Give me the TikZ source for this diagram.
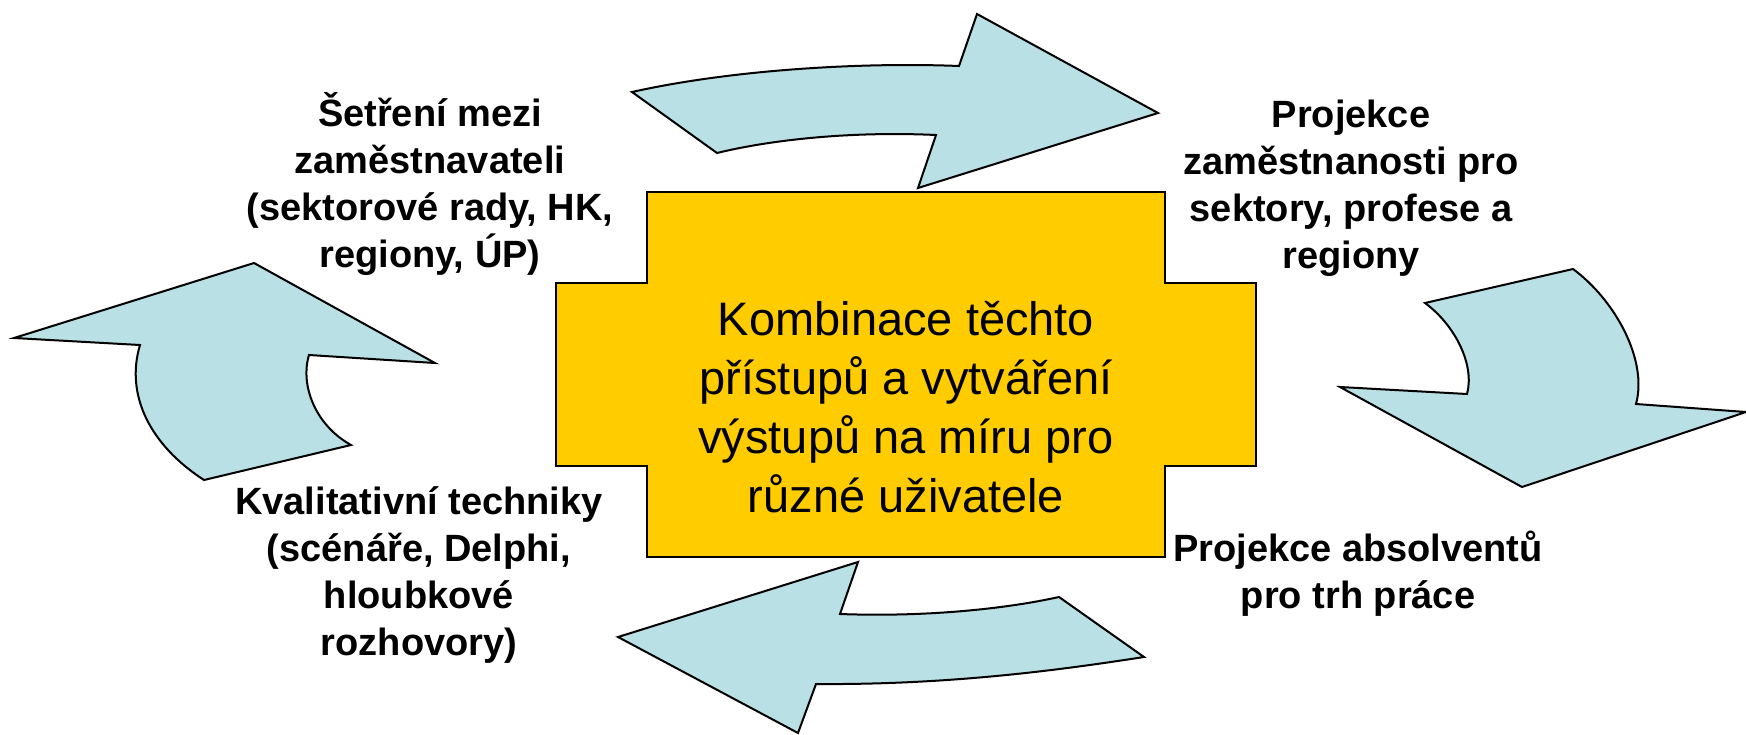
\documentclass[tikz,border=0pt]{standalone}
\usepackage{fontspec}
\setmainfont{Liberation Sans}
\usepackage{tikz}

\definecolor{crossyellow}{RGB}{255,204,0}
\definecolor{arrowblue}{RGB}{185,224,228}

\tikzset{
	arrowshape/.style={fill=arrowblue, draw=black, line width=2, line join=miter},
	crossshape/.style={fill=crossyellow, draw=black, line width=2.2},
	sidelabel/.style={align=center, font=\bfseries\fontsize{38}{47}\selectfont},
	midlabel/.style={align=center, font=\fontsize{47}{59}\selectfont}
}

\begin{document}
\begin{tikzpicture}[x=1pt, y=-1pt]
		\useasboundingbox (0, 0) rectangle (1746, 734);
		% middle cross
		\filldraw[crossshape] (647, 192) -- (1165, 192) -- (1165, 283) -- (1256, 283) -- (1256, 466) -- (1165, 466) -- (1165, 557) -- (647, 557) -- (647, 466) -- (556, 466) -- (556, 283) -- (647, 283) -- cycle;
		\node[midlabel] (combo) at (906, 407) {Kombinace těchto\\přístupů a vytváření\\výstupů na míru pro\\různé uživatele};
		% curved arrows
		\filldraw[arrowshape] (632, 92) .. controls (730, 70) and (860, 62) .. (959, 66) -- (977, 14) -- (1158, 113) -- (918, 188) -- (936, 135) .. controls (850, 131) and (770, 140) .. (717, 153) -- cycle;
		\filldraw[arrowshape] (1425, 303) -- (1573, 269) .. controls (1615, 300) and (1648, 360) .. (1636, 404) -- (1746, 412) -- (1522, 487) -- (1340, 387) -- (1467, 394) .. controls (1475, 365) and (1455, 325) .. (1425, 303) -- cycle;
		\filldraw[arrowshape] (858, 562) -- (840, 614) .. controls (920, 617) and (1000, 610) .. (1059, 597) -- (1144, 657) .. controls (1060, 670) and (950, 685) .. (816, 684) -- (798, 733) -- (618, 637) -- cycle;
		\filldraw[arrowshape] (254, 263) -- (435, 363) -- (309, 355) .. controls (300, 385) and (315, 425) .. (351, 445) -- (204, 480) .. controls (150, 445) and (125, 395) .. (140, 345) -- (14, 338) -- cycle;
		% labels
		\node[sidelabel] (survey) at (430, 184) {Šetření mezi\\zaměstnavateli\\(sektorové rady, HK,\\regiony, ÚP)};
		\node[sidelabel] (projemp) at (1351, 188) {Projekce\\zaměstnanosti pro\\sektory, profese a\\regiony};
		\node[sidelabel] (projgrad) at (1358, 574) {Projekce absolventů\\pro trh práce};
		\node[sidelabel] (qualit) at (419, 575) {Kvalitativní techniky\\(scénáře, Delphi,\\hloubkové\\rozhovory)};
	\end{tikzpicture}
\end{document}
